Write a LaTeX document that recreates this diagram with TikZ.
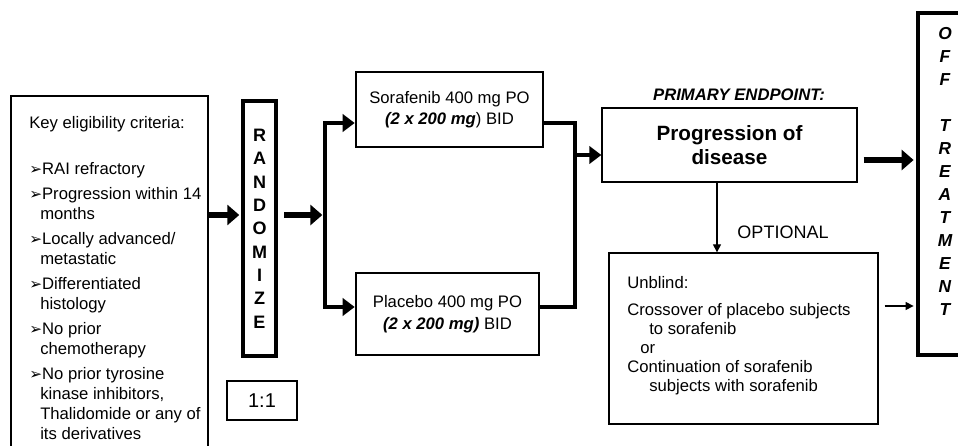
\documentclass[tikz,border=0pt]{standalone}
\usepackage{fontspec}
\setmainfont{Liberation Sans}
\newfontfamily\arrowfont{DejaVu Sans}
\usetikzlibrary{arrows.meta,fit,positioning}
\newcommand{\critmark}{{\arrowfont\fontsize{11.5}{11.5}\selectfont ➢}}

\begin{document}
\begin{tikzpicture}[x=0.75pt,y=-0.75pt,
  box/.style={draw,line width=1pt,inner sep=0pt},
  heavybox/.style={draw,line width=2.6pt,inner sep=0pt},
  txt/.style={inner sep=0pt,font=\fontsize{12.5}{15}\selectfont},
  bigarrow/.style={line width=4.5pt,-{Triangle[length=9pt,width=15pt]}},
  busline/.style={line width=3.5pt},
  busfork/.style={line width=3.5pt,{Triangle[length=9pt,width=13pt]}-{Triangle[length=9pt,width=13pt]}},
  busarrow/.style={line width=3.5pt,-{Triangle[length=9pt,width=13pt]}},
  thinarrow/.style={line width=0.9pt,-{Triangle[length=6pt,width=6pt]}}]
\useasboundingbox (0,0) rectangle (958,446);
\clip (0,0) rectangle (958,446);

% eligibility
\node[box,fit={(11,96) (208,470)}] (crit) {};
\node[txt,anchor=north west,align=left] (crittxt) at (29,116)
  {Key eligibility criteria:\\[19.5pt]
   \critmark RAI refractory\\[3.75pt]
   \critmark Progression within 14\\
   \hspace*{8.25pt}months\\[3.75pt]
   \critmark Locally advanced/\\
   \hspace*{8.25pt}metastatic\\[3.75pt]
   \critmark Differentiated\\
   \hspace*{8.25pt}histology\\[3.75pt]
   \critmark No prior\\
   \hspace*{8.25pt}chemotherapy\\[3.75pt]
   \critmark No prior tyrosine\\
   \hspace*{8.25pt}kinase inhibitors,\\
   \hspace*{8.25pt}Thalidomide or any of\\
   \hspace*{8.25pt}its derivatives};

% randomisation
\node[heavybox,fit={(243,101) (276,356)}] (rand) {};
\node[inner sep=0pt,align=center,font=\bfseries\fontsize{13.5}{17.5}\selectfont] (randtxt) at (rand)
  {R\\A\\N\\D\\O\\M\\I\\Z\\E};
\node[box,fit={(227,381) (297,420)}] (ratio) {};
\node[inner sep=0pt,font=\fontsize{15}{18}\selectfont] (ratiotxt) at (ratio) {1:1};

% arms
\node[box,fit={(356,72) (543,147)}] (sora) {};
\node[inner sep=0pt,align=center,font=\fontsize{12.5}{15.75}\selectfont] (soratxt) at (sora)
  {Sorafenib 400 mg PO\\\textbf{\textit{(2 x 200 mg}}) BID};
\node[box,fit={(356,273) (539,355)}] (plac) {};
\node[inner sep=0pt,align=center,font=\fontsize{12.5}{16.5}\selectfont] (plactxt) at (plac)
  {Placebo 400 mg PO\\\textbf{\textit{(2 x 200 mg)}} BID};

% endpoint
\node[font=\bfseries\itshape\fontsize{12.5}{15}\selectfont] (endpt) at (739,95) {PRIMARY ENDPOINT:};
\node[box,fit={(602,108) (857,182)}] (prog) {};
\node[inner sep=0pt,align=center,font=\bfseries\fontsize{15.5}{18}\selectfont] (progtxt) at (prog)
  {Progression of\\disease};
\node[font=\fontsize{13.5}{16}\selectfont] (opt) at (783,232) {OPTIONAL};
\node[box,fit={(609,253) (878,424)}] (unbl) {};
\node[txt,anchor=north west,align=left,font=\fontsize{12.5}{14.25}\selectfont] (unbltxt) at (627,276)
  {Unblind:\\[6pt]
   Crossover of placebo subjects\\
   \hspace*{16.5pt}to sorafenib\\
   \hspace*{9.75pt}or\\
   Continuation of sorafenib\\
   \hspace*{16.5pt}subjects with sorafenib};

% off treatment
\node[heavybox,fit={(918,13) (980,355)}] (off) {};
\node[inner sep=0pt,anchor=north,align=center,
  font=\bfseries\itshape\fontsize{13}{17.25}\selectfont] (offtxt) at (945,27)
  {O\\F\\F\\[17.25pt]T\\R\\E\\A\\T\\M\\E\\N\\T};

% connectors
\coordinate (inlvl) at (0,215);
\coordinate (bustop) at (325,123);
\coordinate (busbot) at (325,307);
\coordinate (busout) at (575,155);
\coordinate (offlvl) at (0,160);
\coordinate (optx) at (717,0);
\coordinate (optlvl) at (0,306);

\draw[bigarrow,shorten >=1.5pt] (crit.east |- inlvl) -- (rand.west |- inlvl);
\draw[bigarrow,shorten <=5pt,shorten >=2pt] (rand.east |- inlvl) -- (bustop |- inlvl);
\draw[busfork,shorten <=0.5pt,shorten >=0.5pt] (sora.west |- bustop) -- (bustop) -- (busbot) -- (plac.west |- busbot);
\draw[busline] (sora.east |- bustop) -- (busout |- bustop) -- (busout |- busbot) -- (plac.east |- busbot);
\draw[busarrow] (busout) -- (prog.west |- busout);
\draw[bigarrow,shorten <=4.5pt,shorten >=2pt] (prog.east |- offlvl) -- (off.west |- offlvl);
\draw[thinarrow] (prog.south -| optx) -- (unbl.north -| optx);
\draw[thinarrow,shorten <=4.5pt,shorten >=2pt] (unbl.east |- optlvl) -- (off.west |- optlvl);
\end{tikzpicture}
\end{document}
